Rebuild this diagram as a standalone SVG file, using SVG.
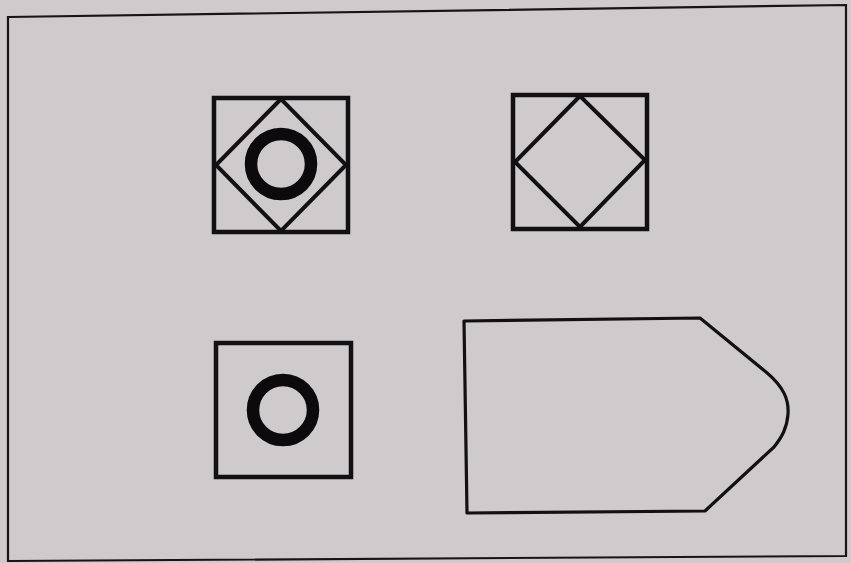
<svg xmlns="http://www.w3.org/2000/svg" width="851" height="563" viewBox="0 0 851 563">
<style>
.sq{fill:none;stroke:#121012;stroke-width:4.5}
.dm{fill:none;stroke:#121012;stroke-width:4;stroke-linejoin:miter}
.ring{fill:none;stroke:#0c0a0c;stroke-width:12.5}
.frame{fill:none;stroke:#161416;stroke-width:2.2}
.shape{fill:none;stroke:#121012;stroke-width:3.2;stroke-linejoin:round}
</style>
<rect width="851" height="563" fill="#cfcacb"/>
<polygon class="frame" points="8,17 846,5 846,556 8,561"/>
<g id="node1">
<rect class="sq" x="214" y="98" width="134" height="134"/>
<polygon class="dm" points="281,99 216,165 281,231 346,165"/>
<circle class="ring" cx="281" cy="164" r="30"/>
</g>
<g id="node2">
<rect class="sq" x="513" y="95" width="134" height="134"/>
<polygon class="dm" points="580,96 515,162 580,227 645,160"/>
</g>
<g id="node3">
<rect class="sq" x="216" y="343" width="135" height="134"/>
<circle class="ring" cx="283" cy="410" r="30"/>
</g>
<g id="node4">
<path class="shape" d="M464,321 L700,318 L766,372 C784,387 789,400 788,414 C787,428 782,437 774,447 L705,511 L467,513 Z"/>
</g>
<g id="connectors"/>
</svg>
